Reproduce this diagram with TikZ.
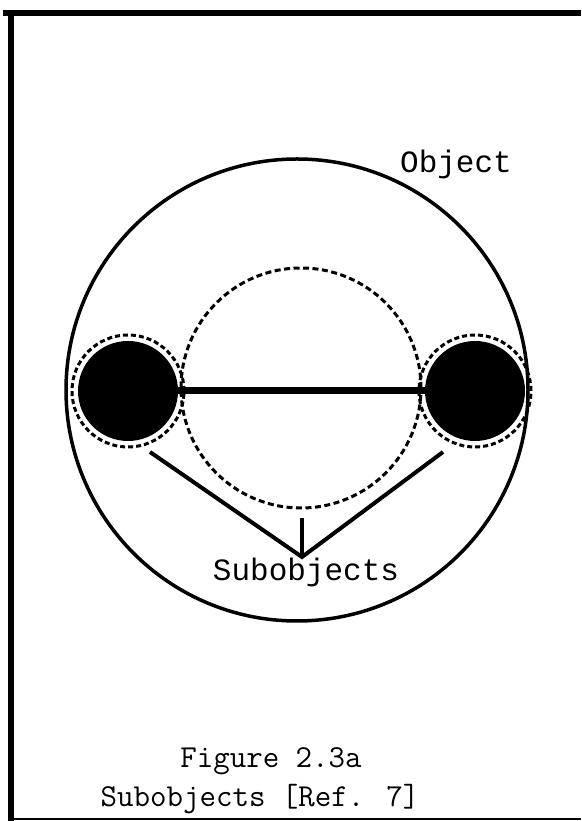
\documentclass[tikz,border=0pt]{standalone}
\usepackage{fontspec}
\newfontfamily\plotfont{Liberation Mono}
\usetikzlibrary{calc, positioning}

\begin{document}
\begin{tikzpicture}[x=1pt, y=1pt,
        frame/.style={line width=6pt},
        dashring/.style={line width=3pt, dash pattern=on 6pt off 3.5pt},
        subobj/.style={circle, fill=black, inner sep=0pt, minimum size=100pt},
        leg/.style={line width=4pt},
        plotted/.style={font=\fontsize{31}{34}\selectfont\plotfont, inner sep=0pt},
        typed/.style={font=\fontsize{32}{35}\selectfont\ttfamily, inner sep=0pt}]

        \useasboundingbox (0,0) rectangle (581,821);

        % ==========================================
        % FRAME: thick top and left edges, thin bottom
        % ==========================================
        \draw[frame] (3,808) -- (581,808);
        \draw[frame] (10.5,808) -- (10.5,0);
        \draw[line width=2pt] (10,2) -- (581,2);

        % ==========================================
        % OBJECT: outer circle and its label
        % ==========================================
        \coordinate (obj) at (297,431);
        \draw[line width=3.5pt] (obj) circle[radius=231];
        \node[plotted, anchor=base] (objlbl) at (456,648) {Object};

        % dashed circle in the middle
        \coordinate (mid) at (301,433);
        \draw[dashring] (mid) circle[radius=120];

        % ==========================================
        % SUBOBJECTS: two black disks joined by a bar
        % ==========================================
        \node[subobj] (left) at (128,430) {};
        \node[subobj] (right) at (475,430) {};
        \draw[dashring, dash pattern=on 5pt off 3pt] (left.center) circle[radius=56];
        \draw[dashring, dash pattern=on 5pt off 3pt] (right.center) circle[radius=56];
        \draw[line width=7pt] (left) -- (right);

        % pointer lines down to the label
        \coordinate (legl) at (150,369);
        \coordinate (legr) at (443,369);
        \coordinate (stem) at (302,303);
        \coordinate (apex) at (302,264);
        \draw[leg] (legl) -- (apex) -- (legr);
        \draw[leg] (stem) -- (apex);
        \node[plotted, anchor=base] (sublbl) at (306,240) {Subobjects};

        % ==========================================
        % CAPTION
        % ==========================================
        \node[typed, anchor=base] (fig) at (271,53) {Figure 2.3a};
        \node[typed, anchor=base] (cap) at (260,14) {Subobjects [Ref. 7]};

\end{tikzpicture}
\end{document}
